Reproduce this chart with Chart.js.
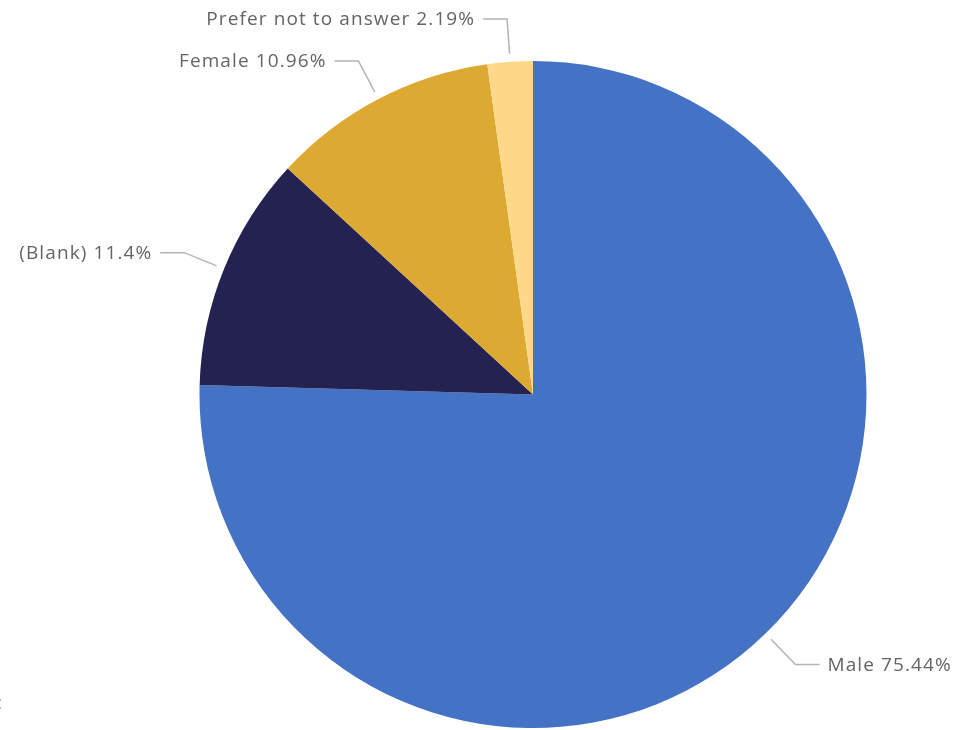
<!DOCTYPE html>
<html>
<head>
<meta charset="utf-8">
<script src="https://cdn.jsdelivr.net/npm/chart.js@4.4.1/dist/chart.umd.min.js"></script>
<style>
  html, body { margin: 0; padding: 0; background: #fff; overflow: hidden; }
  #wrap { position: relative; width: 963px; height: 730px; }
</style>
</head>
<body>
<div id="wrap"><canvas id="genderPie" width="963" height="730"></canvas></div>
<script>
// 性别分布
const categories = ['Male', '(Blank)', 'Female', 'Prefer not to answer'];
const shares = [75.44, 11.4, 10.96, 2.19];
const sliceColors = ['#4472C4', '#232250', '#DCA933', '#FDD889'];

// 引导线 + 标签
const leaderLabels = {
    id: 'leaderLabels',
    afterDatasetsDraw(chart) {
        const ctx = chart.ctx;
        const meta = chart.getDatasetMeta(0);
        ctx.save();
        ctx.font = '19px "Open Sans", "Noto Sans", sans-serif';
        ctx.letterSpacing = '1.1px';
        ctx.textBaseline = 'middle';
        meta.data.forEach((arc, i) => {
            const p = arc.getProps(['x', 'y', 'startAngle', 'endAngle', 'outerRadius'], true);
            const mid = (p.startAngle + p.endAngle) / 2;
            const cos = Math.cos(mid), sin = Math.sin(mid);
            const x0 = p.x + cos * (p.outerRadius + 8);
            const y0 = p.y + sin * (p.outerRadius + 8);
            const x1 = p.x + cos * (p.outerRadius + 43);
            const y1 = p.y + sin * (p.outerRadius + 43);
            const right = cos >= 0;
            const x2 = x1 + (right ? 24 : -24);
            ctx.strokeStyle = '#B3B3B3';
            ctx.lineWidth = 1.5;
            ctx.beginPath();
            ctx.moveTo(x0, y0);
            ctx.lineTo(x1, y1);
            ctx.lineTo(x2, y1);
            ctx.stroke();
            ctx.fillStyle = '#646464';
            ctx.textAlign = right ? 'left' : 'right';
            ctx.fillText(categories[i] + ' ' + shares[i] + '%', x2 + (right ? 8 : -8), y1 + 1);
        });
        // 左下角被截断的字符
        ctx.textAlign = 'left';
        ctx.fillText(':', -3, 704);
        ctx.restore();
    }
};

new Chart(document.getElementById('genderPie'), {
    type: 'pie',
    data: {
        labels: categories,
        datasets: [{
            data: shares,
            backgroundColor: sliceColors,
            borderWidth: 0
        }]
    },
    options: {
        responsive: false,
        animation: false,
        layout: { padding: { top: 61, bottom: 2, left: 199, right: 96 } },
        plugins: {
            legend: { display: false },
            tooltip: { enabled: false }
        }
    },
    plugins: [leaderLabels]
});
</script>
</body>
</html>
